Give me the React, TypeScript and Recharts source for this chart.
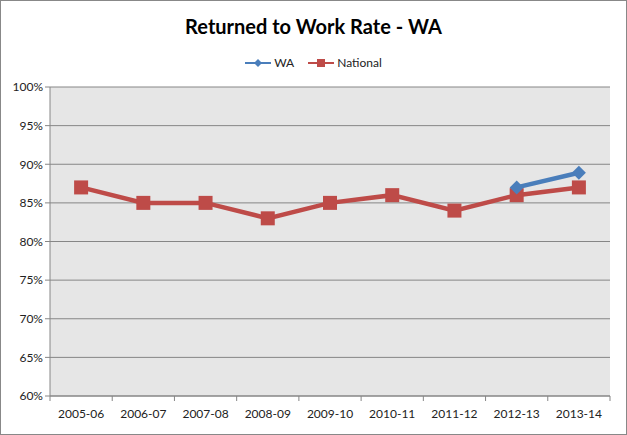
import { LineChart, Line, XAxis, YAxis, CartesianGrid, Legend } from 'recharts'

const seasons = ['2005-06', '2006-07', '2007-08', '2008-09', '2009-10', '2010-11', '2011-12', '2012-13', '2013-14']
const waRate = [null, null, null, null, null, null, null, 0.87, 0.889]
const nationalRate = [0.87, 0.85, 0.85, 0.83, 0.85, 0.86, 0.84, 0.86, 0.87]
const yTicks = [0.6, 0.65, 0.7, 0.75, 0.8, 0.85, 0.9, 0.95, 1]

const FONT = 'Lato, "Open Sans", sans-serif'
const BLUE = '#4a7ebb'
const RED = '#be4b48'

const chartData = seasons.map((s, i) => ({ season: s, wa: waRate[i], national: nationalRate[i] }))

function BandTick(props: any) {
  const { x, y, payload, index } = props
  const half = payload?.offset ?? 31
  return (
    <g>
      <line x1={x - half} y1={y - 8} x2={x - half} y2={y - 3} stroke="#868686" />
      {index === seasons.length - 1 && (
        <line x1={x + half} y1={y - 8} x2={x + half} y2={y - 3} stroke="#868686" />
      )}
      <text x={x} y={y + 14} textAnchor="middle" fontSize={12} fill="#222" fontFamily={FONT}>
        {payload.value}
      </text>
    </g>
  )
}

function LegendContent() {
  return (
    <div style={{ display: 'flex', justifyContent: 'center', gap: 14, fontFamily: FONT, fontSize: 12, color: '#222' }}>
      <span style={{ display: 'flex', alignItems: 'center', gap: 3 }}>
        <svg width={26} height={10}>
          <line x1={0} y1={5} x2={26} y2={5} stroke={BLUE} strokeWidth={2} />
          <polygon points="13,1 17,5 13,9 9,5" fill={BLUE} />
        </svg>
        WA
      </span>
      <span style={{ display: 'flex', alignItems: 'center', gap: 3 }}>
        <svg width={26} height={10}>
          <line x1={0} y1={5} x2={26} y2={5} stroke={RED} strokeWidth={2} />
          <rect x={9} y={1} width={8} height={8} fill={RED} />
        </svg>
        National
      </span>
    </div>
  )
}

function Diamond(props: any) {
  const { cx, cy } = props
  if (cx == null || cy == null || props.value == null) return null
  return <polygon points={`${cx},${cy - 7} ${cx + 7},${cy} ${cx},${cy + 7} ${cx - 7},${cy}`} fill={BLUE} />
}

function Square(props: any) {
  const { cx, cy } = props
  if (cx == null || cy == null) return null
  return <rect x={cx - 7} y={cy - 7} width={14} height={14} fill={RED} />
}

export default function App() {
  return (
    <div
      style={{
        position: 'absolute',
        left: 0,
        top: 0,
        width: 625,
        height: 433,
        border: '1px solid #888',
        background: '#fff',
        fontFamily: FONT,
      }}
    >
      <div
        style={{
          position: 'absolute',
          top: 13,
          width: '100%',
          textAlign: 'center',
          fontSize: 20,
          fontWeight: 'bold',
          color: '#000',
        }}
      >
        Returned to Work Rate - WA
      </div>
      <LineChart width={625} height={433} data={chartData} margin={{ top: 71, right: 16, bottom: 0, left: 0 }}>
        <CartesianGrid vertical={false} fill="#e6e6e6" stroke="#868686" fillOpacity={1} />
        <XAxis
          dataKey="season"
          scale="band"
          height={38}
          axisLine={{ stroke: '#868686' }}
          tickLine={false}
          tick={<BandTick />}
          interval={0}
        />
        <YAxis
          domain={[0.6, 1]}
          ticks={yTicks}
          width={49}
          axisLine={{ stroke: '#868686' }}
          tickLine={{ stroke: '#868686' }}
          tickSize={5}
          tickFormatter={(v: number) => `${Math.round(v * 100)}%`}
          tick={{ fontSize: 12, fill: '#222', fontFamily: FONT }}
          interval={0}
        />
        <Legend verticalAlign="top" content={<LegendContent />} wrapperStyle={{ top: 54, left: 0, width: 625 }} />
        <Line
          dataKey="national"
          stroke={RED}
          strokeWidth={4.5}
          dot={<Square />}
          activeDot={false}
          isAnimationActive={false}
        />
        <Line
          dataKey="wa"
          stroke={BLUE}
          strokeWidth={4.5}
          dot={<Diamond />}
          activeDot={false}
          connectNulls={false}
          isAnimationActive={false}
        />
      </LineChart>
    </div>
  )
}
